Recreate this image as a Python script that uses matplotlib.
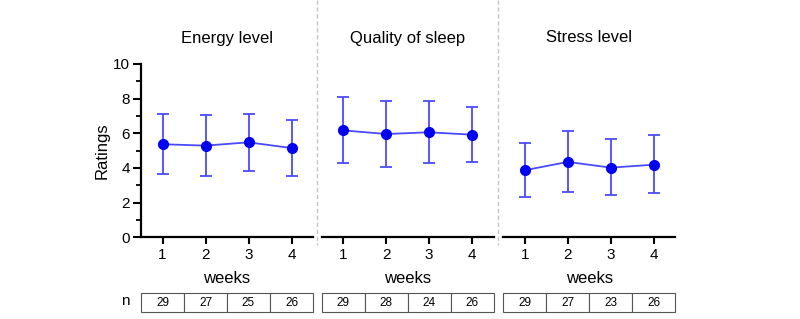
import matplotlib
matplotlib.use("Agg")
import matplotlib.pyplot as plt
from matplotlib.lines import Line2D
from matplotlib.ticker import MultipleLocator

plt.rcParams['font.family'] = ['Liberation Sans', 'DejaVu Sans']

weeks = [1, 2, 3, 4]
titles = ["Energy level", "Quality of sleep", "Stress level"]

energy_mean = [5.37, 5.29, 5.48, 5.15]
energy_hi = [7.13, 7.04, 7.13, 6.79]
energy_lo = [3.63, 3.52, 3.81, 3.54]

sleep_mean = [6.17, 5.96, 6.06, 5.92]
sleep_hi = [8.08, 7.88, 7.87, 7.54]
sleep_lo = [4.29, 4.04, 4.27, 4.33]

stress_mean = [3.87, 4.35, 4.02, 4.19]
stress_hi = [5.42, 6.12, 5.67, 5.90]
stress_lo = [2.33, 2.60, 2.42, 2.54]

n_energy = [29, 27, 25, 26]
n_sleep = [29, 28, 24, 26]
n_stress = [29, 27, 23, 26]

series = [
    (energy_mean, energy_lo, energy_hi, n_energy),
    (sleep_mean, sleep_lo, sleep_hi, n_sleep),
    (stress_mean, stress_lo, stress_hi, n_stress),
]

W, H = 800, 319
fig = plt.figure(figsize=(W / 100, H / 100), dpi=100)

lefts = [141, 321.7, 503.3]
width = 172
ax_bottom = 237.3
ax_top = 64

line_col = '#4a4aff'
mark_col = '#0000f0'

for i, (mean, lo, hi, nvals) in enumerate(series):
    ax = fig.add_axes([lefts[i] / W, (H - ax_bottom) / H, width / W, (ax_bottom - ax_top) / H])
    yerr = [[m - l for m, l in zip(mean, lo)], [h - m for m, h in zip(mean, hi)]]
    ax.errorbar(weeks, mean, yerr=yerr, fmt='-', color=line_col, lw=1.3,
                elinewidth=1.3, capsize=4, capthick=1.3, zorder=2)
    ax.plot(weeks, mean, 'o', color=mark_col, ms=7, zorder=3)
    ax.set_xlim(0.5, 4.5)
    ax.set_ylim(0, 10)
    ax.set_xticks(weeks)
    ax.set_xticklabels([str(w) for w in weeks], fontsize=11)
    ax.tick_params(axis='x', length=5, width=1.5, pad=3)
    for s in ['top', 'right']:
        ax.spines[s].set_visible(False)
    ax.spines['bottom'].set_linewidth(1.6)
    ax.set_xlabel('weeks', fontsize=12, labelpad=6)
    if i == 0:
        ax.spines['left'].set_linewidth(1.6)
        ax.set_yticks([0, 2, 4, 6, 8, 10])
        ax.set_yticklabels(['0', '2', '4', '6', '8', '10'], fontsize=11)
        ax.yaxis.set_minor_locator(MultipleLocator(1))
        ax.tick_params(axis='y', which='major', length=6, width=1.5, pad=2)
        ax.tick_params(axis='y', which='minor', length=3.5, width=1.3)
        ax.set_ylabel('Ratings', fontsize=12, labelpad=2)
    else:
        ax.spines['left'].set_visible(False)
        ax.set_yticks([])
    ax.patch.set_alpha(0)

    cx = (lefts[i] + width / 2) / W
    fig.text(cx, 1 - 38 / H, titles[i], ha='center', va='center', fontsize=12)

    # n table
    tax = fig.add_axes([lefts[i] / W, (H - 312.3) / H, width / W, 19 / H])
    tbl = tax.table(cellText=[[str(v) for v in nvals]], cellLoc='center',
                    bbox=[0, 0, 1, 1])
    tbl.auto_set_font_size(False)
    tbl.set_fontsize(8.5)
    for cell in tbl.get_celld().values():
        cell.set_edgecolor('#555555')
        cell.set_linewidth(0.8)
    tax.axis('off')

fig.text(125 / W, 1 - 301 / H, 'n', ha='center', va='center', fontsize=11)

for x in [317.3, 498.3]:
    fig.add_artist(Line2D([x / W, x / W], [1.0, 1 - 245 / H], transform=fig.transFigure,
                          color='#c4c4c4', lw=1, ls=(0, (3, 2))))

fig.savefig('out.png', dpi=100)
